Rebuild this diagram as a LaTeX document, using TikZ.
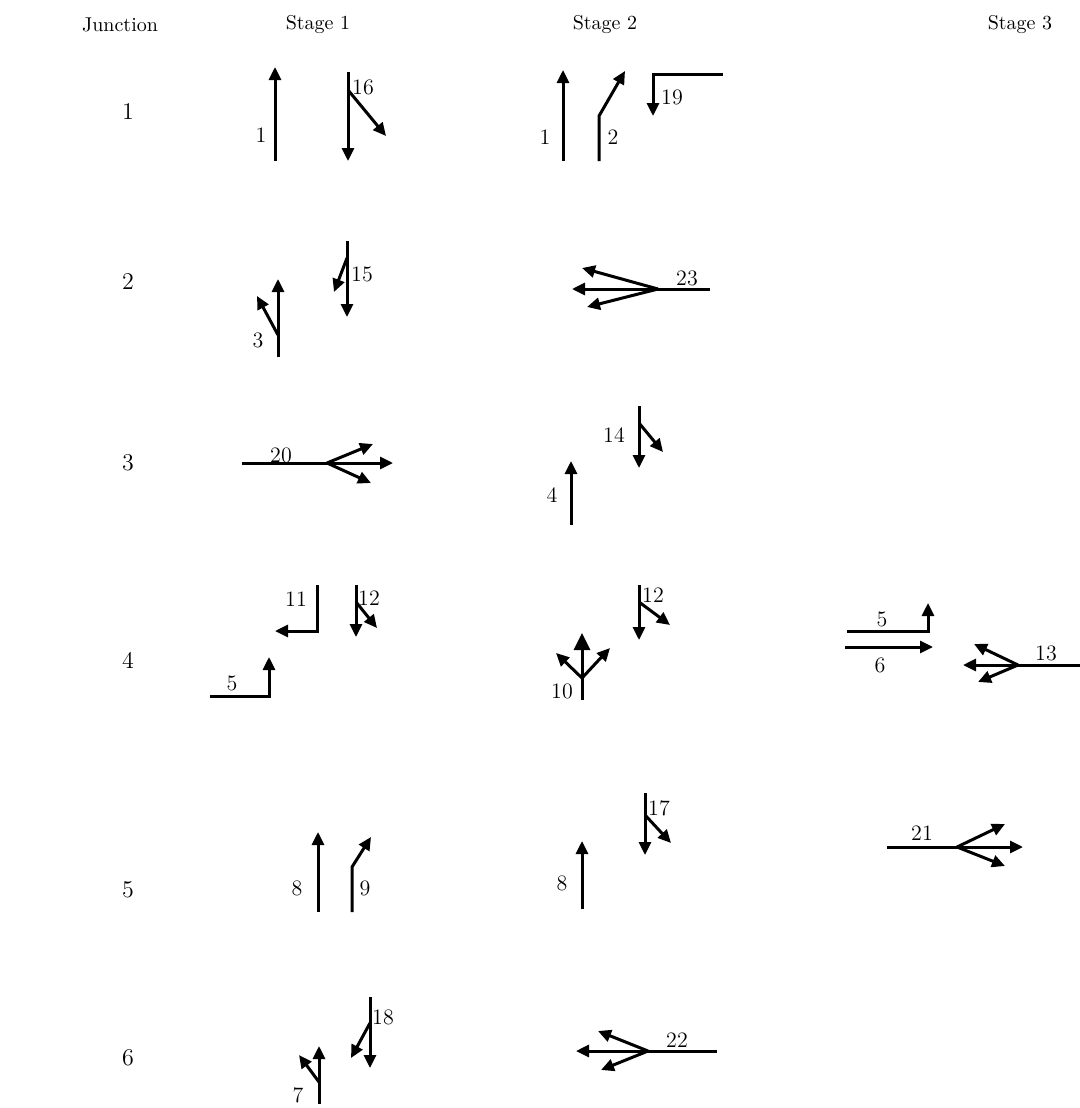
\documentclass[tikz,border=0pt]{standalone}
\usepackage{tikz}
\usetikzlibrary{arrows.meta}

\begin{document}
\begin{tikzpicture}[
    x=0.5pt, y=-0.5pt,
    mv/.style={line width=1.5pt, -{Triangle[length=6.5pt, width=6pt]}},
    bar/.style={line width=1.5pt},
    bigmv/.style={line width=1.5pt, -{Triangle[length=8.5pt, width=8pt]}},
    lbl/.style={font=\fontsize{11}{13}\selectfont, inner sep=0pt},
    hdr/.style={font=\fontsize{10}{12}\selectfont, inner sep=0pt},
    jct/.style={font=\fontsize{12}{14}\selectfont, inner sep=0pt}
  ]
  \useasboundingbox (0,0) rectangle (1080,1108);

  % column heads
  \node[hdr] (hJ)  at (120,25)  {Junction};
  \node[hdr] (hS1) at (318,25)  {Stage 1};
  \node[hdr] (hS2) at (605,25)  {Stage 2};
  \node[hdr] (hS3) at (1020,25) {Stage 3};

  % junction numbers
  \foreach \j/\y in {1/112, 2/282, 3/463, 4/660, 5/890, 6/1058} {
    \node[jct] (j\j) at (128,\y) {\j};
  }

  % ---- junction 1
  \draw[mv] (275,161) -- (275,67);
  \node[lbl] (a1) at (261,135) {1};
  \draw[mv] (348,72) -- (348,161);
  \draw[mv] (348,90) -- (386,136);
  \node[lbl] (a16) at (363,87) {16};

  \draw[mv] (563,161) -- (563,70);
  \node[lbl] (b1) at (545,137) {1};
  \draw[mv] (599,161) -- (599,116) -- (625,71);
  \node[lbl] (b2) at (613,137) {2};
  \draw[mv] (723,74) -- (653,74) -- (653,116);
  \node[lbl] (b19) at (672,97) {19};

  % ---- junction 2
  \draw[mv] (278,357) -- (278,279);
  \draw[mv] (278,335) -- (257,296);
  \node[lbl] (a3) at (258,340) {3};
  \draw[mv] (347,241) -- (347,317);
  \draw[mv] (347,258) -- (334,292);
  \node[lbl] (a15) at (362,274) {15};

  \draw[bar] (710,289) -- (658,289);
  \draw[mv] (658,289) -- (572,289);
  \draw[mv] (658,289) -- (582,268);
  \draw[mv] (658,289) -- (587,307);
  \node[lbl] (b23) at (687,278) {23};

  % ---- junction 3
  \draw[bar] (242,463) -- (327,463);
  \draw[mv] (327,463) -- (393,463);
  \draw[mv] (327,463) -- (373,444);
  \draw[mv] (327,463) -- (371,483);
  \node[lbl] (a20) at (281,455) {20};

  \draw[mv] (639,406) -- (639,468);
  \draw[mv] (639,423) -- (663,452);
  \node[lbl] (b14) at (614,435) {14};
  \draw[mv] (571,525) -- (571,461);
  \node[lbl] (b4) at (552,495) {4};

  % ---- junction 4
  \draw[mv] (317,585) -- (317,631) -- (275,631);
  \node[lbl] (a11) at (296,599) {11};
  \draw[mv] (356,585) -- (356,637);
  \draw[mv] (356,602) -- (377,628);
  \node[lbl] (a12) at (369,598) {12};
  \draw[mv] (210,696) -- (269,696) -- (269,657);
  \node[lbl] (a5) at (232,683) {5};

  \draw[mv] (639,585) -- (639,640);
  \draw[mv] (639,602) -- (670,625);
  \node[lbl] (b12) at (653,595) {12};
  \draw[bar] (582,700) -- (582,678);
  \draw[bigmv] (582,678) -- (582,633);
  \draw[mv] (582,678) -- (556,653);
  \draw[mv] (582,678) -- (610,648);
  \node[lbl] (b10) at (562,691) {10};

  \draw[mv] (847,631) -- (928,631) -- (928,603);
  \node[lbl] (c5) at (882,619) {5};
  \draw[mv] (845,647) -- (933,647);
  \node[lbl] (c6) at (880,665) {6};
  \draw[bar] (1080,665) -- (1018,665);
  \draw[mv] (1018,665) -- (963,665);
  \draw[mv] (1018,665) -- (974,644);
  \draw[mv] (1018,665) -- (978,682);
  \node[lbl] (c13) at (1046,653) {13};

  % ---- junction 5
  \draw[mv] (318,912) -- (318,832);
  \node[lbl] (a8) at (297,888) {8};
  \draw[mv] (352,912) -- (352,867) -- (371,837);
  \node[lbl] (a9) at (365,888) {9};

  \draw[mv] (645,793) -- (645,855);
  \draw[mv] (645,815) -- (671,843);
  \node[lbl] (b17) at (659,808) {17};
  \draw[mv] (582,909) -- (582,841);
  \node[lbl] (b8) at (562,883) {8};

  \draw[bar] (887,847) -- (957,847);
  \draw[mv] (957,847) -- (1023,847);
  \draw[mv] (957,847) -- (1005,824);
  \draw[mv] (957,847) -- (1005,866);
  \node[lbl] (c21) at (922,833) {21};

  % ---- junction 6
  \draw[mv] (370,997) -- (370,1068);
  \draw[mv] (370,1023) -- (351,1058);
  \node[lbl] (a18) at (383,1017) {18};
  \draw[mv] (319,1104) -- (319,1046);
  \draw[mv] (319,1082) -- (299,1055);
  \node[lbl] (a7) at (298,1095) {7};

  \draw[bar] (717,1051) -- (648,1051);
  \draw[mv] (648,1051) -- (576,1051);
  \draw[mv] (648,1051) -- (598,1031);
  \draw[mv] (648,1051) -- (601,1070);
  \node[lbl] (b22) at (677,1040) {22};
\end{tikzpicture}
\end{document}
